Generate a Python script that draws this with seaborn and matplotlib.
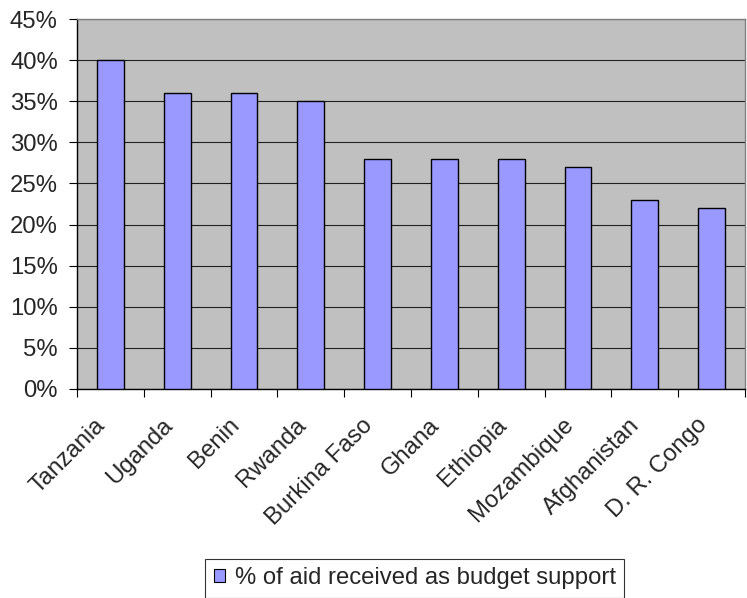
import matplotlib
matplotlib.use("Agg")
import matplotlib.pyplot as plt
import matplotlib.transforms as mtransforms
import seaborn as sns
import pandas as pd
import numpy as np
from matplotlib.patches import Patch

countries = ["Tanzania", "Uganda", "Benin", "Rwanda", "Burkina Faso", "Ghana",
             "Ethiopia", "Mozambique", "Afghanistan", "D. R. Congo"]
values = [0.40, 0.36, 0.36, 0.35, 0.28, 0.28, 0.28, 0.27, 0.23, 0.22]
yticks = [0, 0.05, 0.10, 0.15, 0.20, 0.25, 0.30, 0.35, 0.40, 0.45]
series_name = "% of aid received as budget support"

sns.set_style("white")
plt.rcParams['font.family'] = ['Liberation Sans', 'DejaVu Sans']
FS = 17.2

df = pd.DataFrame({"country": countries, "value": values})

fig = plt.figure(figsize=(7.47, 5.98), dpi=100)
ax = fig.add_axes([0.1031, 0.3495, 0.8942, 0.6187])
ax.set_facecolor("#C0C0C0")

sns.barplot(data=df, x="country", y="value", color="#9999FF", width=0.4,
            edgecolor="black", linewidth=1.0, saturation=1, ax=ax, zorder=3)

ax.set_ylim(0, 0.45)
ax.set_xlim(-0.5, len(countries) - 0.5)
ax.set_yticks(yticks)
ax.set_yticklabels([f"{int(round(v*100))}%" for v in yticks], fontsize=FS)
ax.yaxis.grid(True, color="#202020", linewidth=0.8, zorder=0)
ax.set_axisbelow(True)
ax.tick_params(axis="y", length=5.8, width=0.8, color="black", pad=8, left=True)

ax.set_xticks(range(len(countries)))
ax.set_xticklabels(countries, rotation=45, ha="right", rotation_mode="anchor", fontsize=FS)
ax.tick_params(axis="x", which="major", length=0, pad=18)
ax.set_xticks(np.arange(-0.5, len(countries), 1.0), minor=True)
ax.tick_params(axis="x", which="minor", length=5.5, width=0.8, color="black", bottom=True)
shift = mtransforms.ScaledTranslation(-16 / 100, 0, fig.dpi_scale_trans)
for lab in ax.get_xticklabels():
    lab.set_transform(lab.get_transform() + shift)

ax.set_xlabel("")
ax.set_ylabel("")
for s in ["top", "right"]:
    ax.spines[s].set_color("#808080")
    ax.spines[s].set_linewidth(1.0)
for s in ["left", "bottom"]:
    ax.spines[s].set_color("black")
    ax.spines[s].set_linewidth(1.0)

handle = Patch(facecolor="#9999FF", edgecolor="black", linewidth=0.8)
leg = fig.legend([handle], [series_name], loc="center", bbox_to_anchor=(0.555, 0.033),
                 fontsize=FS, frameon=True, fancybox=False, handlelength=0.46,
                 handleheight=0.46, handletextpad=0.42, borderpad=0.35,
                 borderaxespad=0)
leg.get_frame().set_edgecolor("black")
leg.get_frame().set_linewidth(0.8)

fig.savefig("out.png", dpi=100)
